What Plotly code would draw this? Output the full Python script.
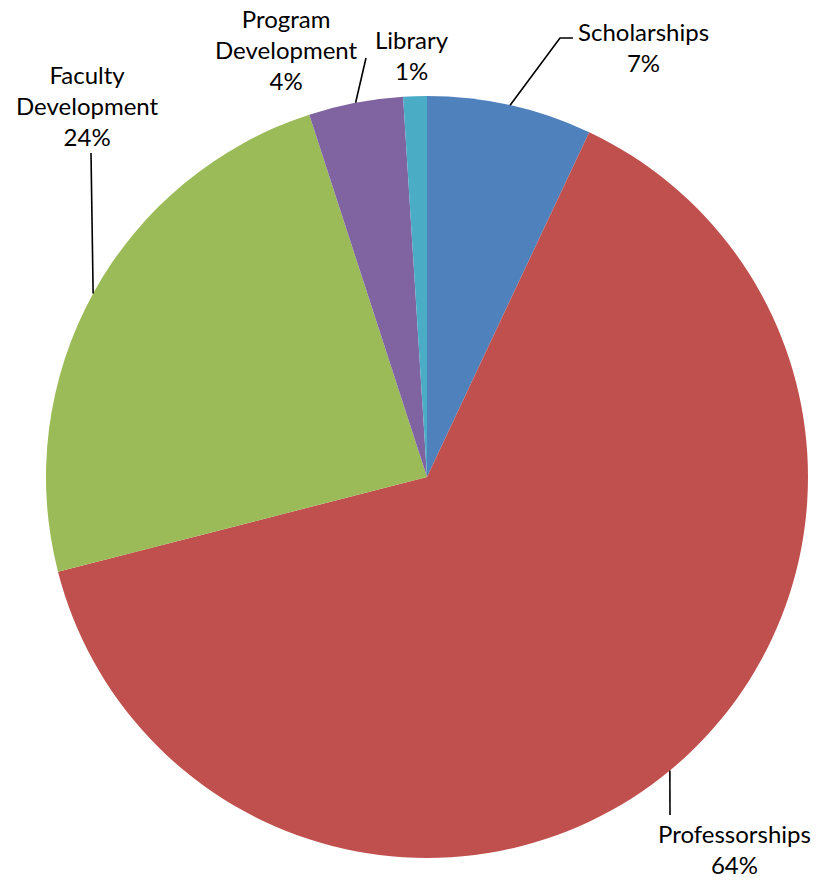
import math
import plotly.graph_objects as go

# ---- data ----
categories = ["Scholarships", "Professorships", "Faculty Development", "Program Development", "Library"]
values = [7, 64, 24, 4, 1]
label_text = ["Scholarships", "Professorships", "Faculty<br>Development", "Program<br>Development", "Library"]
colors = ["#4F81BD", "#C0504D", "#9BBB59", "#8064A2", "#4BACC6"]

# ---- layout constants (pixels) ----
W, H = 817, 881
CX, CY, R = 427, 477, 381
# label block centres
label_pos = [(643, 47), (734, 849), (87, 105), (286, 49), (412, 55)]
# leader line end points (after the start at slice edge); None = no line
leader_ends = [
    [(560, 38), (573, 38)],
    [(670, 815)],
    [(91, 153)],
    [(366, 58)],
    None,
]
FONT = dict(family="Lato, 'Open Sans', sans-serif", size=24, color="#000000")

fig = go.Figure(go.Pie(
    labels=categories,
    values=values,
    marker=dict(colors=colors, line=dict(width=0)),
    sort=False,
    direction="clockwise",
    rotation=0,
    textinfo="none",
    hoverinfo="label+percent",
    showlegend=False,
    domain=dict(x=[(CX - R) / W, (CX + R) / W],
                y=[(H - CY - R) / H, (H - CY + R) / H]),
))

def px2paper(x, y):
    return x / W, 1 - y / H

total = sum(values)
cum = 0
shapes = []
annotations = []
for i, v in enumerate(values):
    mid = (cum + v / 2) / total * 2 * math.pi
    cum += v
    sx = CX + R * math.sin(mid)
    sy = CY - R * math.cos(mid)
    pct = round(v / total * 100)
    lx, ly = label_pos[i]
    px_, py_ = px2paper(lx, ly)
    annotations.append(dict(
        x=px_, y=py_, xref="paper", yref="paper",
        text=f"{label_text[i]}<br>{pct}%",
        showarrow=False, xanchor="center", yanchor="middle",
        align="center", font=FONT,
    ))
    if leader_ends[i]:
        pts = [(sx, sy)] + leader_ends[i]
        path = ""
        for j, (x, y) in enumerate(pts):
            a, b = px2paper(x, y)
            path += ("M" if j == 0 else " L") + f" {a:.5f},{b:.5f}"
        shapes.append(dict(type="path", path=path, xref="paper", yref="paper",
                           line=dict(color="#000000", width=1.6)))

fig.update_layout(
    width=W, height=H,
    margin=dict(l=0, r=0, t=0, b=0),
    paper_bgcolor="white",
    plot_bgcolor="white",
    annotations=annotations,
    shapes=shapes,
)

fig.write_html("out.html",
               config={"displayModeBar": False},
               post_script="document.body.style.margin='0';document.body.style.overflow='hidden';")
